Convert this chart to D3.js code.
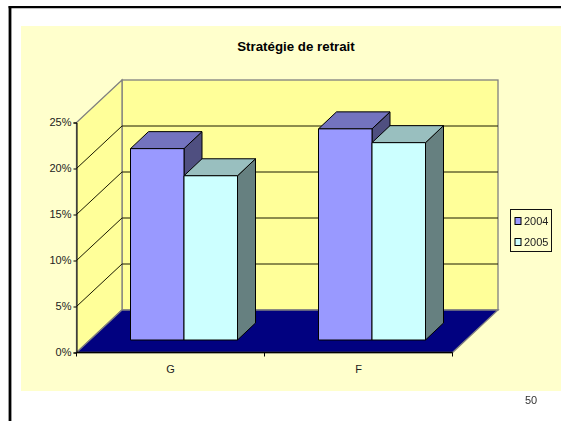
<!DOCTYPE html>
<html><head><meta charset="utf-8">
<script src="https://cdn.jsdelivr.net/npm/d3@7/dist/d3.min.js"></script>
<style>html,body{margin:0;padding:0;background:#fff}svg{display:block;opacity:.999}text{font-family:"Liberation Sans",Arial,sans-serif}</style>
</head><body><svg id="c" width="561" height="421"></svg>
<script>
const categories = ["G", "F"];
const seriesNames = ["2004", "2005"];
const values2004 = [20.8, 22.95];
const values2005 = [17.85, 21.45];
const yTicks = [0, 5, 10, 15, 20, 25];
const titleText = "Stratégie de retrait";
const pageNumber = "50";
const fills = ["#9999FF", "#CCFFFF"];
const tops = ["#7373BF", "#99BFBF"];
const sides = ["#4F4F80", "#668080"];

const svg = d3.select("#c");
const depth = {x: 45.5, y: -42.5};
const barDepth = {x: 18, y: -17};
const y = d3.scaleLinear().domain([0, 25]).range([352.5, 122.5]);
const x = d3.scaleBand().domain(categories).range([76.5, 452.5]);
const pts = a => a.map(p => p.join(",")).join(" ");

// background + frame
svg.append("rect").attr("x", 21).attr("y", 26).attr("width", 540).attr("height", 365).attr("fill", "#FFFFCC");
svg.append("line").attr("x1", 10).attr("x2", 10).attr("y1", 6).attr("y2", 421).attr("stroke", "#000").attr("stroke-width", 2.8);
svg.append("line").attr("x1", 8.6).attr("x2", 561).attr("y1", 7.2).attr("y2", 7.2).attr("stroke", "#000").attr("stroke-width", 2.2);

svg.append("text").attr("x", 296).attr("y", 51).attr("text-anchor", "middle")
  .attr("font-size", 13.3).attr("font-weight", "bold").attr("fill", "#000").text(titleText);

const [y0, y1] = y.range();
const [x0, x1] = x.range();
const dx = depth.x, dy = depth.y;
const grey = "#808080";
// back wall
svg.append("rect").attr("x", x0 + dx).attr("y", y1 + dy).attr("width", x1 - x0).attr("height", y0 - y1)
  .attr("fill", "#FFFF99").attr("stroke", grey).attr("stroke-width", 1.3);
// side wall
svg.append("polygon").attr("points", pts([[x0, y0], [x0, y1], [x0 + dx, y1 + dy], [x0 + dx, y0 + dy]]))
  .attr("fill", "#FFFF99").attr("stroke", grey).attr("stroke-width", 1.3);
// floor
svg.append("polygon").attr("points", pts([[x0, y0], [x1, y0], [x1 + dx, y0 + dy], [x0 + dx, y0 + dy]]))
  .attr("fill", "#000080").attr("stroke", grey).attr("stroke-width", 1.3);

// gridlines
yTicks.filter(t => t > 0 && t < 25).forEach(t => {
  svg.append("path").attr("d", `M${x0},${y(t)}L${x0 + dx},${y(t) + dy}H${x1 + dx}`)
    .attr("fill", "none").attr("stroke", "#1a1a00").attr("stroke-width", 1);
});

// axes
const yAxis = d3.axisLeft(y).tickValues(yTicks).tickFormat(d => d + "%").tickSize(3).tickPadding(2);
const gy = svg.append("g").attr("transform", `translate(${x0},0)`).call(yAxis);
gy.selectAll("path,line").attr("stroke", "#000");
gy.selectAll("text").attr("font-size", 11).attr("font-family", '"Liberation Sans",Arial,sans-serif').attr("fill", "#222").attr("dy", "0.29em");
const gx = svg.append("g").attr("transform", `translate(0,${y0})`);
gx.append("line").attr("x1", x0).attr("x2", x1).attr("stroke", "#000").attr("stroke-width", 1.3);
[x0, x(categories[1]), x1].forEach(v => gx.append("line").attr("x1", v).attr("x2", v).attr("y1", 0).attr("y2", 4).attr("stroke", "#000"));
categories.forEach(c => gx.append("text").attr("x", x(c) + x.bandwidth() / 2).attr("y", 20.5)
  .attr("text-anchor", "middle").attr("font-size", 11).attr("fill", "#222").text(c));

// bars
const base = y0 - 12.5;
const barW = 53.5;
const groupOffset = 54;
[values2004, values2005].forEach((vals, s) => {
  vals.forEach((v, i) => {
    const bx = x(categories[i]) + groupOffset + s * barW;
    const top = y(v) - 12.5;
    const g = svg.append("g").attr("stroke", "#000").attr("stroke-width", 1).attr("stroke-linejoin", "round");
    const dxb = barDepth.x, dyb = barDepth.y;
    g.append("polygon").attr("points", pts([[bx + barW, base], [bx + barW + dxb, base + dyb], [bx + barW + dxb, top + dyb], [bx + barW, top]])).attr("fill", sides[s]);
    g.append("polygon").attr("points", pts([[bx, top], [bx + dxb, top + dyb], [bx + barW + dxb, top + dyb], [bx + barW, top]])).attr("fill", tops[s]);
    g.append("rect").attr("x", bx).attr("y", top).attr("width", barW).attr("height", base - top).attr("fill", fills[s]);
  });
});

// legend
const lg = svg.append("g");
lg.append("rect").attr("x", 510.5).attr("y", 209.5).attr("width", 41).attr("height", 42).attr("fill", "#FFFFCC").attr("stroke", "#111");
seriesNames.forEach((n, i) => {
  const ly = 221 + i * 21;
  lg.append("rect").attr("x", 515).attr("y", ly - 3.5).attr("width", 6).attr("height", 7).attr("fill", fills[i]).attr("stroke", "#000");
  lg.append("text").attr("x", 524).attr("y", ly + 4).attr("font-size", 11).attr("fill", "#222").text(n);
});

svg.append("text").attr("x", 525).attr("y", 404).attr("font-size", 11).attr("fill", "#333").text(pageNumber);
</script></body></html>
